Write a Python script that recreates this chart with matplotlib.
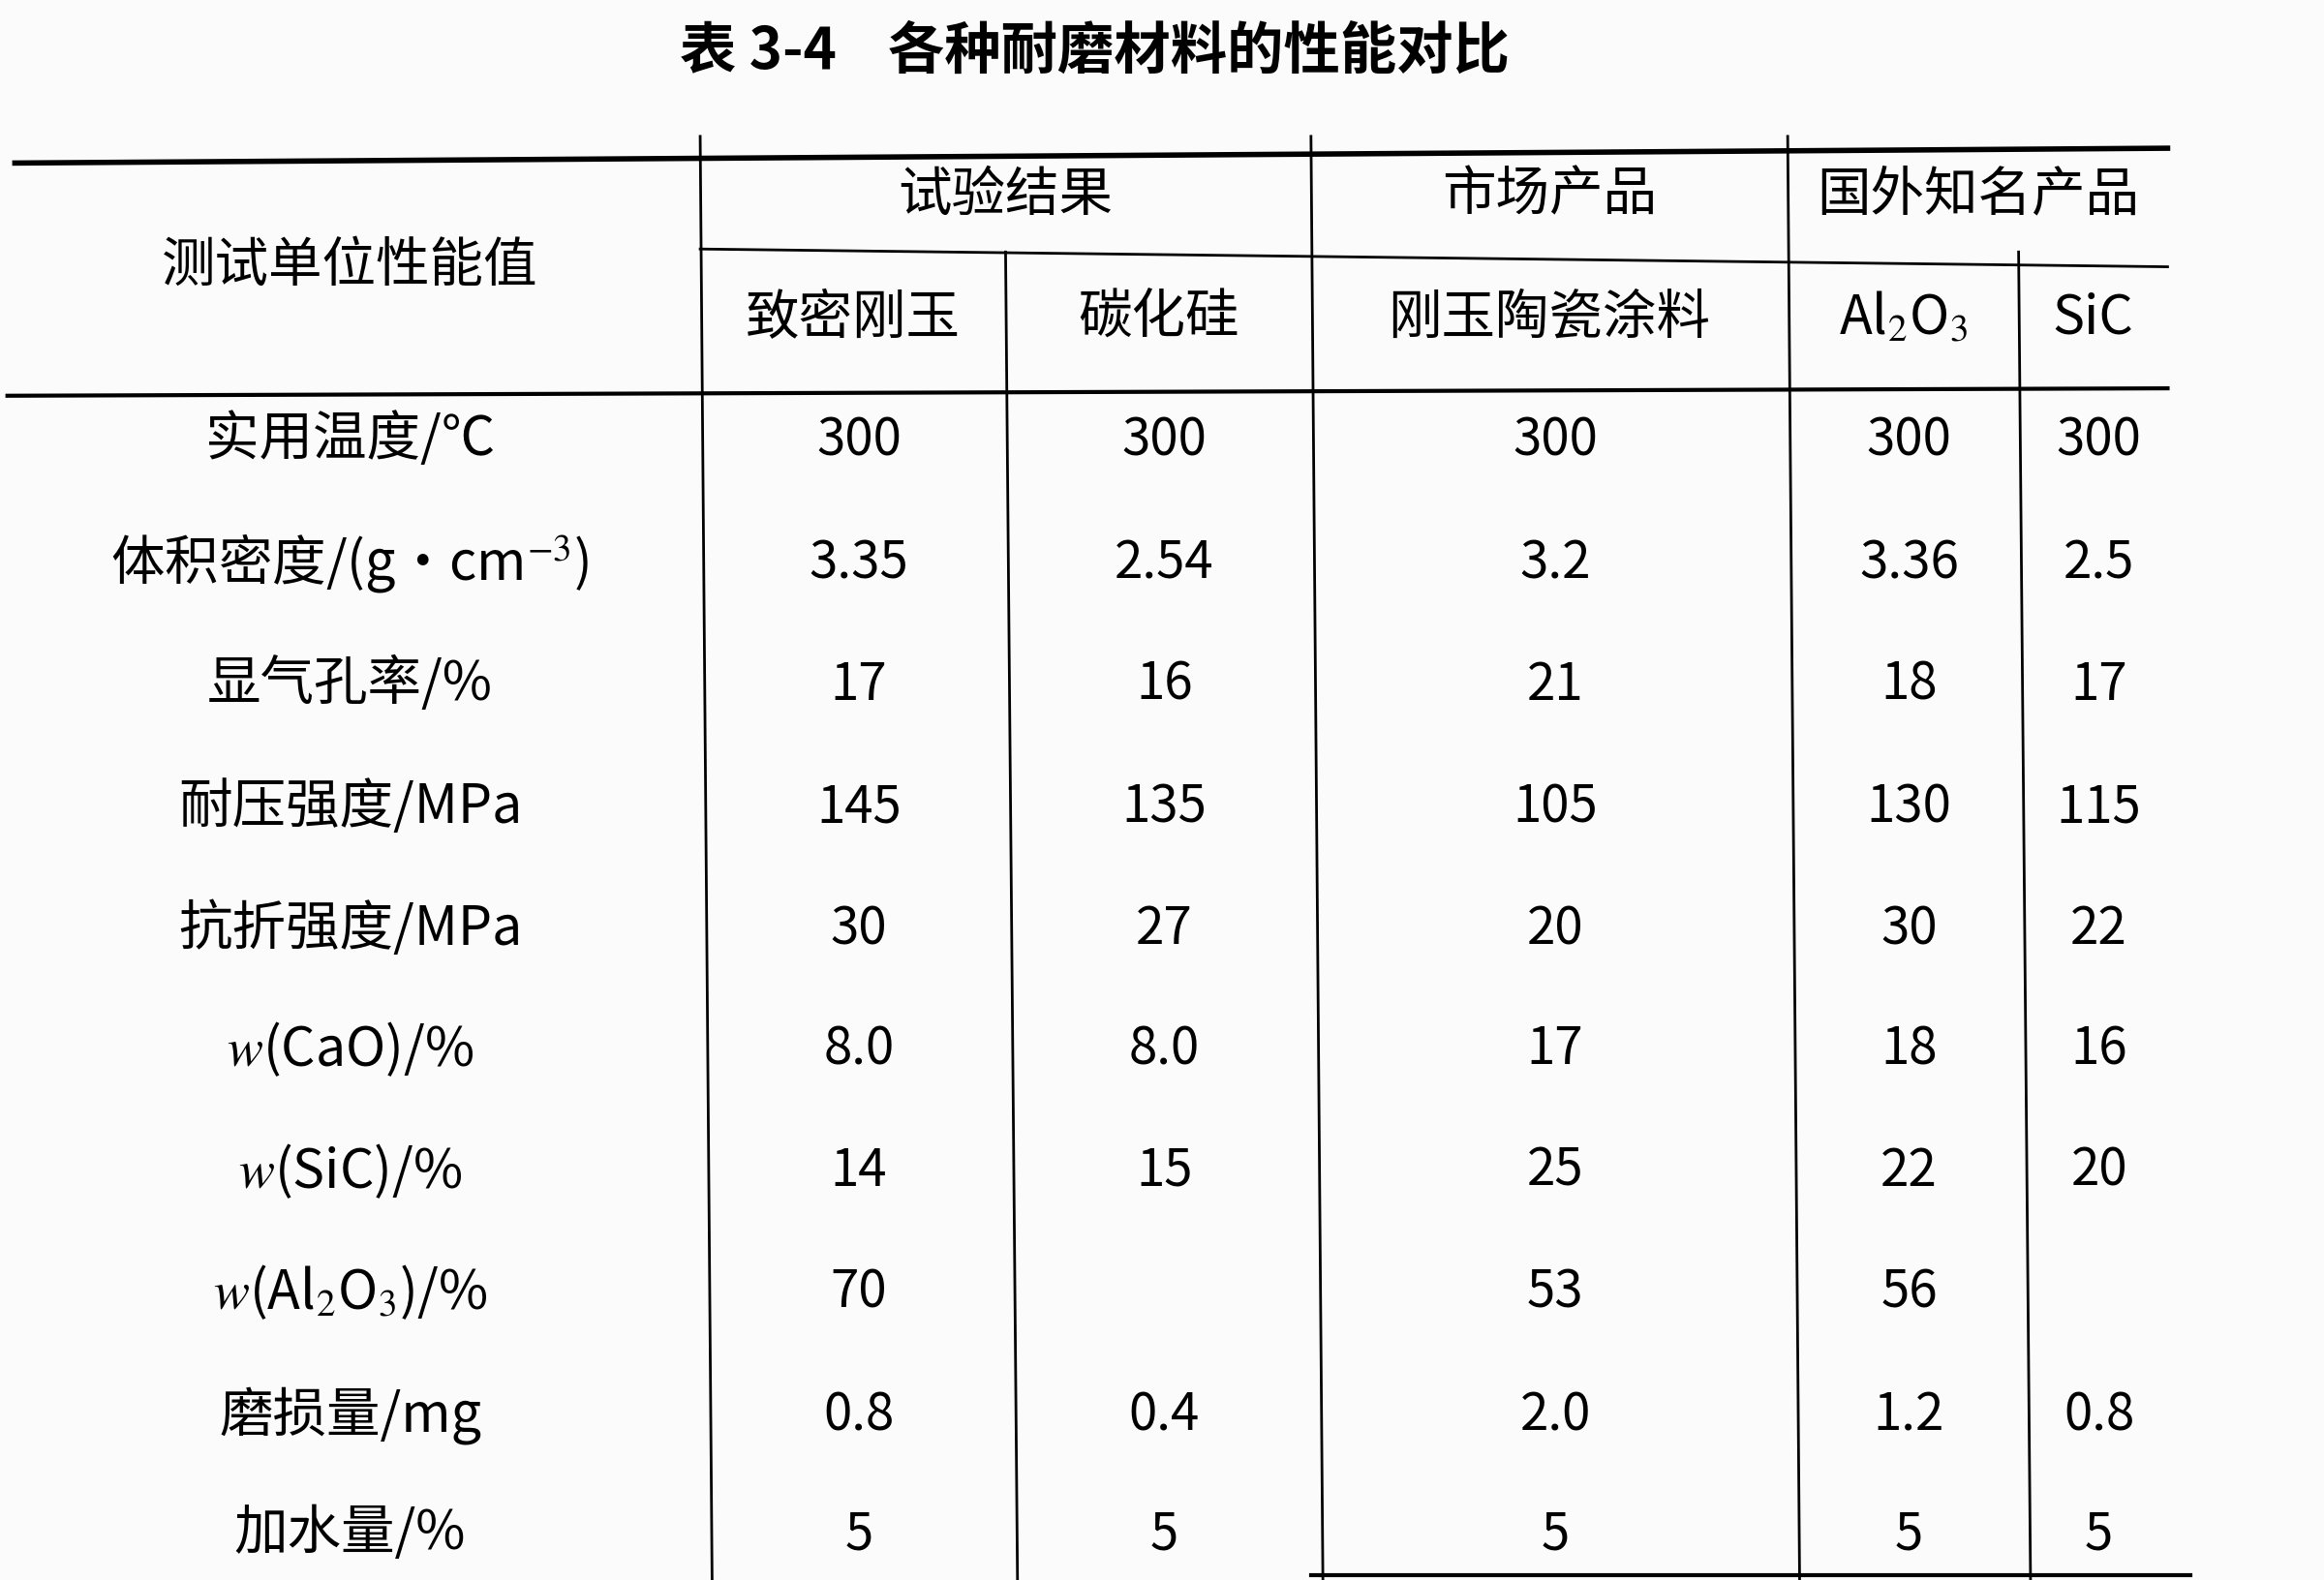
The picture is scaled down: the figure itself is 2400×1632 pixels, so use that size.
import matplotlib
matplotlib.use("Agg")
import matplotlib.pyplot as plt

plt.rcParams['font.family'] = ['Noto Sans CJK SC', 'DejaVu Sans']
plt.rcParams['mathtext.fontset'] = 'stix'

title = "表 3-4    各种耐磨材料的性能对比"
groups = ["试验结果", "市场产品", "国外知名产品"]
subheads = ["致密刚玉", "碳化硅", "刚玉陶瓷涂料", r"Al$_2$O$_3$", "SiC"]
row_header = "测试单位性能值"
properties = ["实用温度/℃", r"体积密度/(g·cm$^{-3}$)", "显气孔率/%", "耐压强度/MPa",
              "抗折强度/MPa", r"$w$(CaO)/%", r"$w$(SiC)/%", r"$w$(Al$_2$O$_3$)/%",
              "磨损量/mg", "加水量/%"]
dense_corundum = ["300", "3.35", "17", "145", "30", "8.0", "14", "70", "0.8", "5"]
silicon_carbide = ["300", "2.54", "16", "135", "27", "8.0", "15", "", "0.4", "5"]
corundum_coating = ["300", "3.2", "21", "105", "20", "17", "25", "53", "2.0", "5"]
foreign_al2o3 = ["300", "3.36", "18", "130", "30", "18", "22", "56", "1.2", "5"]
foreign_sic = ["300", "2.5", "17", "115", "22", "16", "20", "", "0.8", "5"]
columns = [dense_corundum, silicon_carbide, corundum_coating, foreign_al2o3, foreign_sic]

fig = plt.figure(figsize=(24, 16.32), dpi=100)
ax = fig.add_axes([0, 0, 1, 1])
ax.set_xlim(0, 1560); ax.set_ylim(1066, 0); ax.axis('off')
fig.patch.set_facecolor('#fbfbfb')

xb = [10, 470, 675, 880, 1200, 1355, 1455]
ax.text(735, 35, title, ha='center', va='center', fontsize=42, fontweight='bold')
ax.plot([10, 1455], [110, 100], color='k', lw=4)
ax.plot([470, 1455], [168, 180], color='k', lw=2)
ax.plot([5, 1455], [267, 262], color='k', lw=3)
ax.plot([880, 1470], [1063, 1063], color='k', lw=3)
for x in xb[1:-1]:
    top = 92 if x in (470, 880, 1200) else 170
    ax.plot([x, x + 8], [top, 1066], color='k', lw=2)

gx = [(470, 880), (880, 1200), (1200, 1455)]
for g, (a, b) in zip(groups, gx):
    ax.text((a + b) / 2, 132, g, ha='center', va='center', fontsize=40)
for i, s in enumerate(subheads):
    ax.text((xb[i + 1] + xb[i + 2]) / 2, 215, s, ha='center', va='center', fontsize=40)
ax.text(235, 180, row_header, ha='center', va='center', fontsize=40)

ys = [297, 380, 462, 545, 627, 708, 790, 872, 955, 1035]
for r, y in enumerate(ys):
    ax.text(235, y, properties[r], ha='center', va='center', fontsize=40)
    for c, col in enumerate(columns):
        cx = (xb[c + 1] + xb[c + 2]) / 2 + 4
        ax.text(cx, y, col[r], ha='center', va='center', fontsize=38)

fig.savefig("out.png", dpi=100, facecolor=fig.get_facecolor())
